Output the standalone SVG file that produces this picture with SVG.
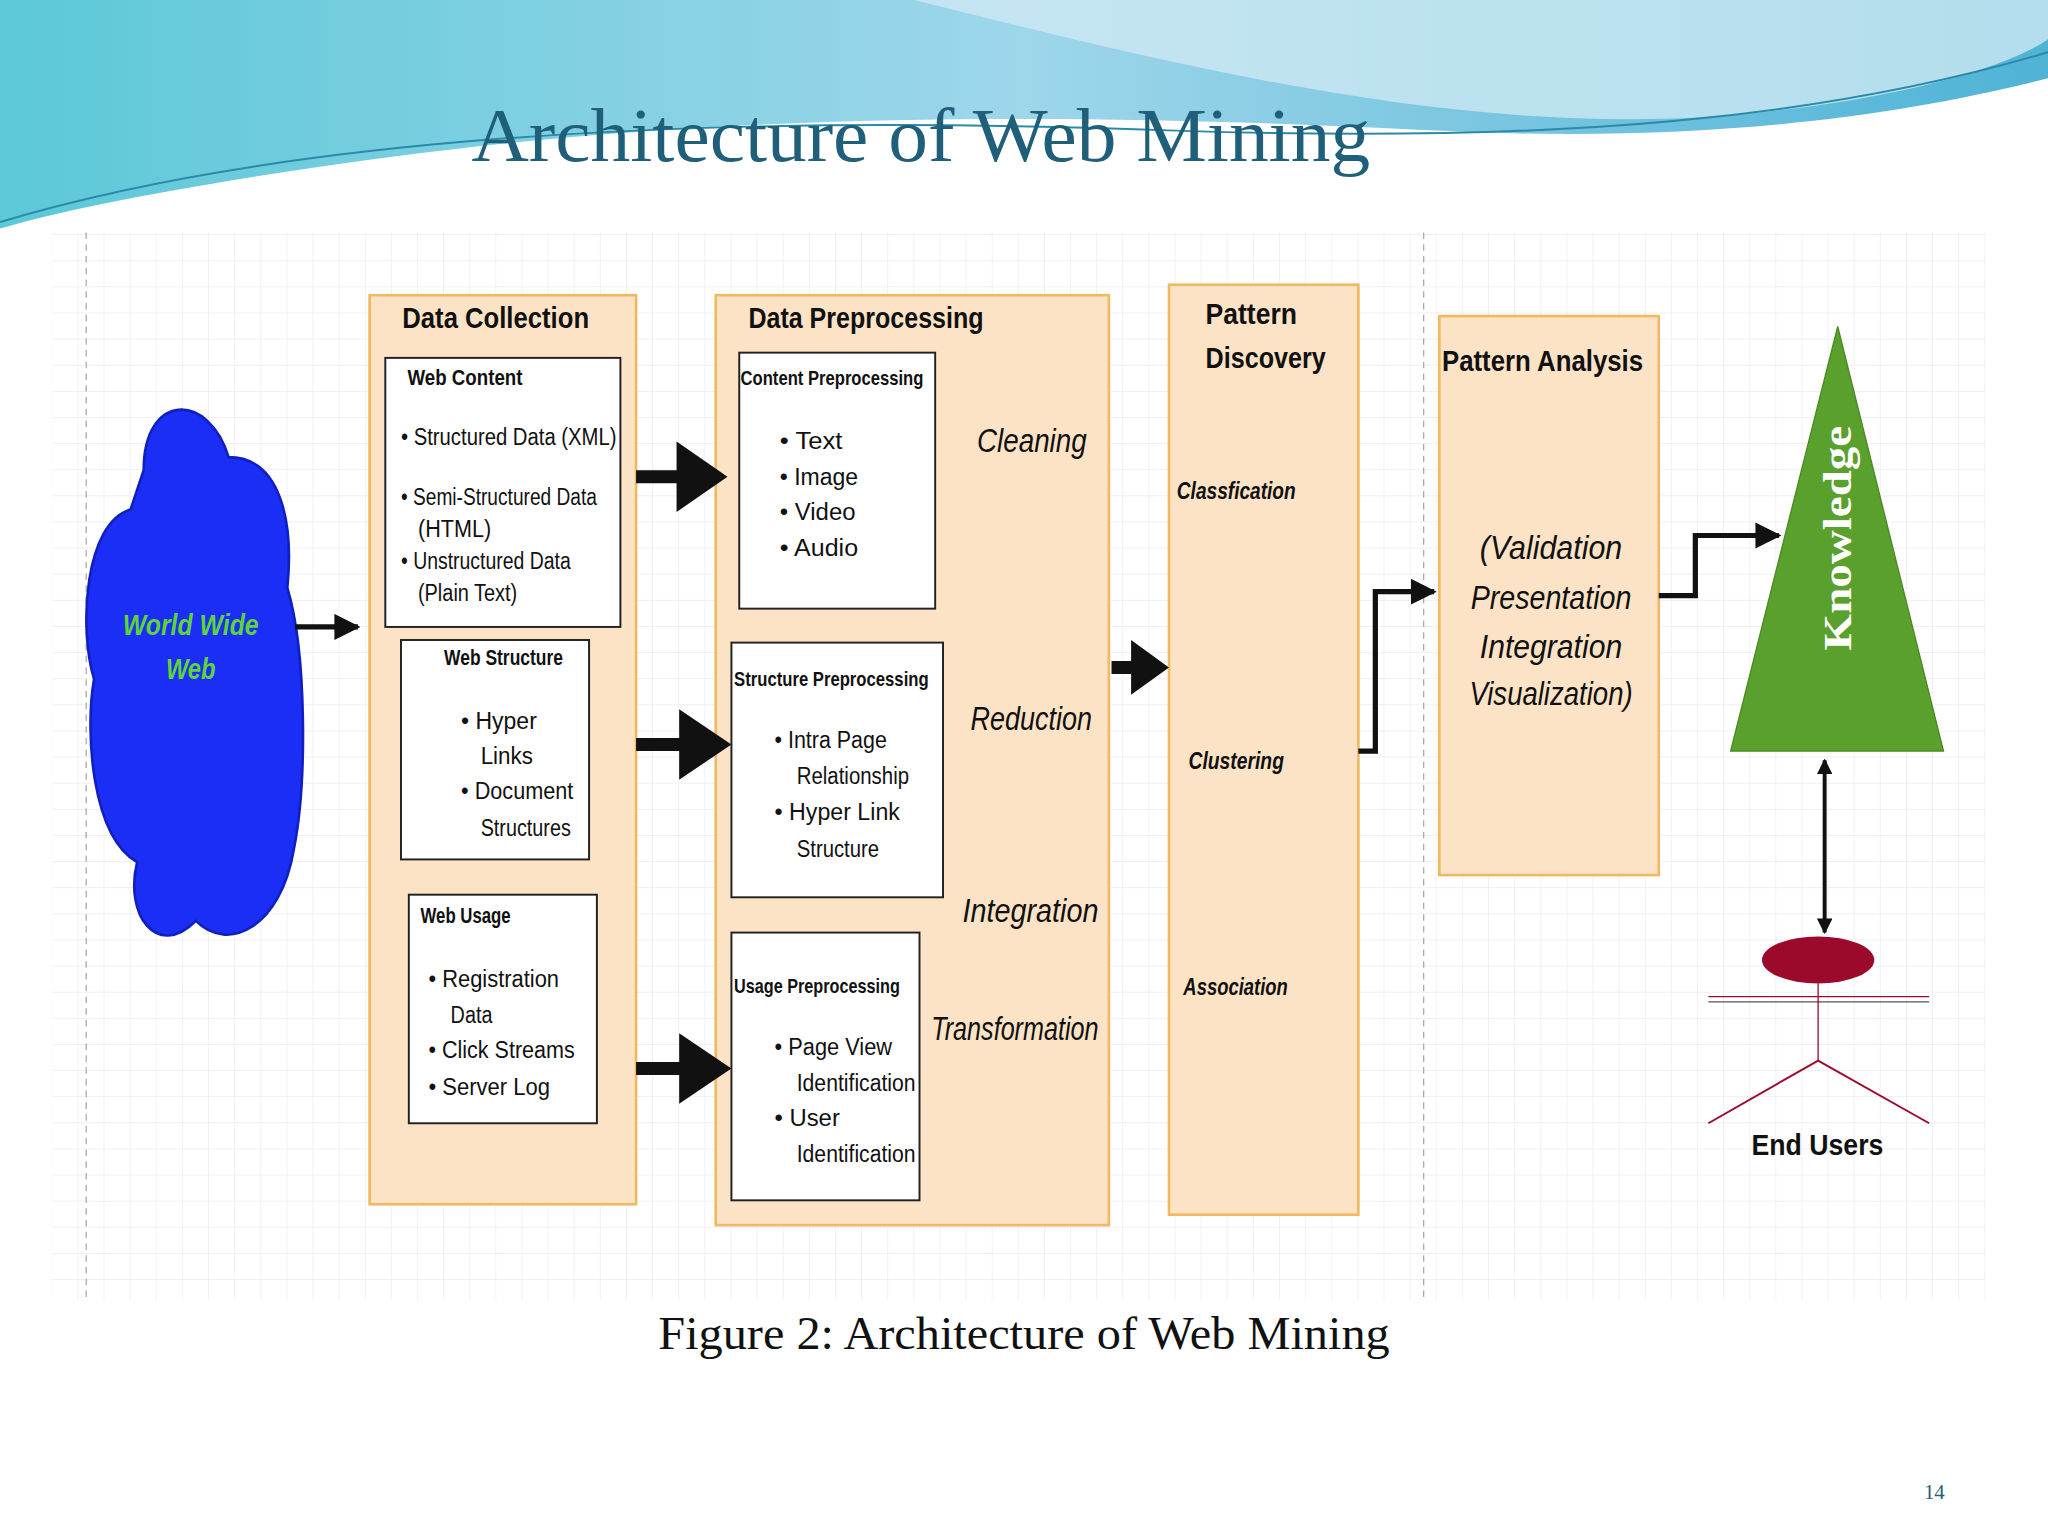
<svg xmlns="http://www.w3.org/2000/svg" width="2048" height="1536" viewBox="0 0 2048 1536">
<defs>
<style>
.n{font-family:"Liberation Sans",Arial,sans-serif;fill:#111}
.h{font-weight:bold;font-size:23px}
.sh{font-size:17px;font-weight:bold}
.t{font-size:18px}
.it{font-style:italic;font-size:25px}
.bi{font-style:italic;font-weight:bold;font-size:19px}
.outer{fill:#fde3c6;stroke:#f0b860;stroke-width:2}
.inner{fill:#fff;stroke:#222;stroke-width:1.5}
.big{fill:#111}
.ln{stroke:#111;stroke-width:4;fill:none}
</style>
<linearGradient id="wave" x1="0" y1="0" x2="1" y2="0"><stop offset="0" stop-color="#5cc8d8"/><stop offset="0.5" stop-color="#9ed6ea"/><stop offset="1" stop-color="#4fb3d6"/></linearGradient>
<marker id="ah" viewBox="0 0 10 10" refX="9" refY="5" markerWidth="5" markerHeight="5" orient="auto"><path d="M0,0L10,5L0,10z" fill="#111"/></marker>
<marker id="ahs" viewBox="0 0 10 10" refX="9" refY="5" markerWidth="4" markerHeight="4" orient="auto-start-reverse"><path d="M0,0L10,5L0,10z" fill="#111"/></marker>
<pattern id="grid" width="20" height="20" patternUnits="userSpaceOnUse"><path d="M20,0V20H0" fill="none" stroke="#eaeaea" stroke-width="1"/></pattern>
</defs>
<rect width="2048" height="1536" fill="#fff"/>
<g transform="scale(1.30612)">
<path d="M0,0H1568V60C1450,90 1300,110 1100,100C900,90 600,80 300,120C150,140 50,160 0,175Z" fill="url(#wave)"/>
<path d="M700,0C900,50 1100,100 1300,90C1450,80 1540,50 1568,30V0Z" fill="#cde9f3" opacity="0.8"/>
<path d="M0,170C200,110 500,85 900,100C1200,110 1400,90 1568,40" stroke="#2a8aa8" stroke-width="1.5" fill="none"/>
<text x="705" y="123" text-anchor="middle" font-family="Liberation Serif,serif" font-size="58" fill="#1f5f7a" textLength="688" lengthAdjust="spacingAndGlyphs">Architecture of Web Mining</text>
<rect x="40" y="178" width="1480" height="817" fill="url(#grid)"/>
<line x1="66" y1="178" x2="66" y2="995" stroke="#aaa" stroke-dasharray="5,4"/>
<line x1="1090" y1="178" x2="1090" y2="995" stroke="#aaa" stroke-dasharray="5,4"/>

<g id="www">
<path d="M110,360C110,300 160,300 175,350C215,350 225,400 220,450C235,500 235,600 225,650C215,710 175,730 150,705C120,735 95,700 105,660C70,640 65,560 72,520C60,480 65,400 100,390Z" fill="#1a2ef5" stroke="#1020c0" stroke-width="2"/>
<text x="146" y="486" text-anchor="middle" class="n bi" style="fill:#5fd43a;font-size:23px" textLength="104" lengthAdjust="spacingAndGlyphs">World Wide</text>
<text x="146" y="520" text-anchor="middle" class="n bi" style="fill:#5fd43a;font-size:23px" textLength="38" lengthAdjust="spacingAndGlyphs">Web</text>
</g>

<g id="collection">
<rect x="283" y="226" width="204" height="696" class="outer"/>
<text x="308" y="251" class="n h" textLength="143" lengthAdjust="spacingAndGlyphs">Data Collection</text>
<rect x="295" y="274" width="180" height="206" class="inner"/>
<text x="312" y="295" class="n sh" textLength="88" lengthAdjust="spacingAndGlyphs">Web Content</text>
<g class="n t">
<text x="307" y="341" textLength="165" lengthAdjust="spacingAndGlyphs">• Structured  Data (XML)</text>
<text x="307" y="387" textLength="150" lengthAdjust="spacingAndGlyphs">• Semi-Structured Data</text>
<text x="320" y="411" textLength="56" lengthAdjust="spacingAndGlyphs">(HTML)</text>
<text x="307" y="436" textLength="130" lengthAdjust="spacingAndGlyphs">• Unstructured Data</text>
<text x="320" y="460" textLength="76" lengthAdjust="spacingAndGlyphs">(Plain Text)</text></g>
</g>
<g id="structure">
<rect x="307" y="490" width="144" height="168" class="inner"/>
<text x="340" y="509" class="n sh" textLength="91" lengthAdjust="spacingAndGlyphs">Web Structure</text>
<g class="n t"><text x="353" y="558" textLength="58" lengthAdjust="spacingAndGlyphs">• Hyper</text><text x="368" y="585" textLength="40" lengthAdjust="spacingAndGlyphs">Links</text><text x="353" y="612" textLength="86" lengthAdjust="spacingAndGlyphs">• Document</text><text x="368" y="640" textLength="69" lengthAdjust="spacingAndGlyphs">Structures</text></g>
</g>
<g id="usage">
<rect x="313" y="685" width="144" height="175" class="inner"/>
<text x="322" y="707" class="n sh" textLength="69" lengthAdjust="spacingAndGlyphs">Web Usage</text>
<g class="n t"><text x="328" y="756" textLength="100" lengthAdjust="spacingAndGlyphs">• Registration</text><text x="345" y="783" textLength="32" lengthAdjust="spacingAndGlyphs">Data</text><text x="328" y="810" textLength="112" lengthAdjust="spacingAndGlyphs">• Click Streams</text><text x="328" y="838" textLength="93" lengthAdjust="spacingAndGlyphs">• Server Log</text></g>
</g>

<g id="preprocessing">
<rect x="548" y="226" width="301" height="712" class="outer"/>
<text x="573" y="251" class="n h" textLength="180" lengthAdjust="spacingAndGlyphs">Data Preprocessing</text>
<g class="n it"><text x="748" y="346" textLength="84" lengthAdjust="spacingAndGlyphs">Cleaning</text><text x="743" y="559" textLength="93" lengthAdjust="spacingAndGlyphs">Reduction</text><text x="737" y="706" textLength="104" lengthAdjust="spacingAndGlyphs">Integration</text><text x="713" y="796" textLength="128" lengthAdjust="spacingAndGlyphs">Transformation</text></g>
</g>
<g id="contentpre">
<rect x="566" y="270" width="150" height="196" class="inner"/>
<text x="567" y="295" class="n sh" style="font-size:16px" textLength="140" lengthAdjust="spacingAndGlyphs">Content Preprocessing</text>
<g class="n t"><text x="597" y="344" textLength="48" lengthAdjust="spacingAndGlyphs">• Text</text><text x="597" y="371" textLength="60" lengthAdjust="spacingAndGlyphs">• Image</text><text x="597" y="398" textLength="58" lengthAdjust="spacingAndGlyphs">• Video</text><text x="597" y="426" textLength="60" lengthAdjust="spacingAndGlyphs">• Audio</text></g>
</g>
<g id="structpre">
<rect x="560" y="492" width="162" height="195" class="inner"/>
<text x="562" y="525" class="n sh" style="font-size:16px" textLength="149" lengthAdjust="spacingAndGlyphs">Structure Preprocessing</text>
<g class="n t"><text x="593" y="573" textLength="86" lengthAdjust="spacingAndGlyphs">• Intra Page</text><text x="610" y="600" textLength="86" lengthAdjust="spacingAndGlyphs">Relationship</text><text x="593" y="628" textLength="96" lengthAdjust="spacingAndGlyphs">• Hyper Link</text><text x="610" y="656" textLength="63" lengthAdjust="spacingAndGlyphs">Structure</text></g>
</g>
<g id="usagepre">
<rect x="560" y="714" width="144" height="205" class="inner"/>
<text x="562" y="760" class="n sh" style="font-size:16px" textLength="127" lengthAdjust="spacingAndGlyphs">Usage Preprocessing</text>
<g class="n t"><text x="593" y="808" textLength="90" lengthAdjust="spacingAndGlyphs">• Page View</text><text x="610" y="835" textLength="91" lengthAdjust="spacingAndGlyphs">Identification</text><text x="593" y="862" textLength="50" lengthAdjust="spacingAndGlyphs">• User</text><text x="610" y="890" textLength="91" lengthAdjust="spacingAndGlyphs">Identification</text></g>
</g>

<g id="discovery">
<rect x="895" y="218" width="145" height="712" class="outer"/>
<text x="923" y="248" class="n h" textLength="70" lengthAdjust="spacingAndGlyphs">Pattern</text>
<text x="923" y="282" class="n h" textLength="92" lengthAdjust="spacingAndGlyphs">Discovery</text>
<g class="n bi"><text x="901" y="382" textLength="91" lengthAdjust="spacingAndGlyphs">Classfication</text><text x="910" y="589" textLength="73" lengthAdjust="spacingAndGlyphs">Clustering</text><text x="906" y="762" textLength="80" lengthAdjust="spacingAndGlyphs">Association</text></g>
</g>

<g id="analysis">
<rect x="1102" y="242" width="168" height="428" class="outer"/>
<text x="1104" y="284" class="n h" textLength="154" lengthAdjust="spacingAndGlyphs">Pattern Analysis</text>
<g class="n it"><text x="1133" y="428" textLength="109" lengthAdjust="spacingAndGlyphs">(Validation</text><text x="1126" y="466" textLength="123" lengthAdjust="spacingAndGlyphs">Presentation</text><text x="1133" y="504" textLength="109" lengthAdjust="spacingAndGlyphs">Integration</text><text x="1125" y="540" textLength="125" lengthAdjust="spacingAndGlyphs">Visualization)</text></g>
</g>

<g id="knowledge">
<path d="M1407,250L1488,575H1325Z" fill="#5aa02c" stroke="#4a8a22"/>
<text transform="translate(1417,412) rotate(-90)" text-anchor="middle" font-family="Liberation Serif,serif" font-weight="bold" font-size="30" fill="#fff" textLength="172" lengthAdjust="spacingAndGlyphs">Knowledge</text>
</g>

<g id="endusers">
<ellipse cx="1392" cy="735" rx="43" ry="18" fill="#9b0a2a"/>
<line x1="1308" y1="763" x2="1477" y2="763" stroke="#9b0a2a"/><line x1="1308" y1="767" x2="1477" y2="767" stroke="#555"/>
<line x1="1392" y1="753" x2="1392" y2="812" stroke="#9b0a2a"/>
<path d="M1308,860L1392,812L1477,860" fill="none" stroke="#9b0a2a" stroke-width="1.5"/>
<text x="1341" y="884" class="n h" textLength="101" lengthAdjust="spacingAndGlyphs">End Users</text>
</g>

<g id="connectors">
<line x1="226" y1="480" x2="274" y2="480" class="ln" marker-end="url(#ah)"/>
<path class="big" d="M487,360H518V338L557,365L518,392V370H487Z"/>
<path class="big" d="M487,565H520V543L560,570L520,597V575H487Z"/>
<path class="big" d="M487,813H520V791L560,818L520,845V823H487Z"/>
<path class="big" d="M851,506H866V490L895,511L866,532V516H851Z"/>
<path d="M1040,575H1053V453H1098" class="ln" marker-end="url(#ah)"/>
<path d="M1270,456H1298V410H1362" class="ln" marker-end="url(#ah)"/>
<line x1="1397" y1="582" x2="1397" y2="714" stroke="#111" stroke-width="3" marker-start="url(#ahs)" marker-end="url(#ahs)"/>
</g>

<text x="784" y="1033" text-anchor="middle" font-family="Liberation Serif,serif" font-size="36" fill="#111" textLength="560" lengthAdjust="spacingAndGlyphs">Figure 2: Architecture of Web Mining</text>
<text x="1481" y="1148" text-anchor="middle" font-family="Liberation Serif,serif" font-size="16" fill="#1f5f7a">14</text>
</g>
</svg>
